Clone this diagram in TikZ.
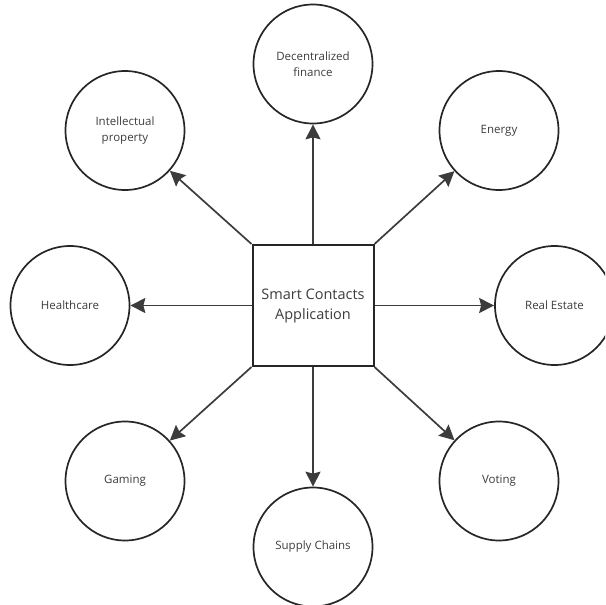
\documentclass[tikz,border=0pt]{standalone}
\usepackage{fontspec}
\setmainfont{Open Sans}
\usepackage{tikz}
\usetikzlibrary{arrows.meta}
\definecolor{ink}{HTML}{262626}
\definecolor{label}{HTML}{3C3C3C}

\begin{document}
\begin{tikzpicture}[x=1pt, y=-1pt,
	topic/.style = {draw=ink, circle, line width=1.7pt, minimum size=119pt, inner sep=0pt, align=center, text=label, font=\fontsize{11.5}{16}\selectfont},
	app/.style = {draw=ink, rectangle, line width=2pt, minimum size=121pt, inner sep=0pt, align=center, text=label, font=\fontsize{14.5}{20}\selectfont},
	link/.style = {draw=ink!90, line width=1.7pt, -{Stealth[length=15pt, width=15pt, inset=2pt]}}]
	\useasboundingbox (0,0) rectangle (605,605);
	\clip (0,0) rectangle (605,605);
	\node[app] (S) at (313, 305.5){Smart Contacts\\Application};
	\node[topic] (D) at (313, 64){Decentralized\\finance};
	\node[topic] (I) at (125, 130.5){Intellectual\\property};
	\node[topic] (E) at (499, 130.5){Energy};
	\node[topic] (H) at (70, 305.5){Healthcare};
	\node[topic] (R) at (554.5, 305.5){Real Estate};
	\node[topic] (G) at (125, 481){Gaming};
	\node[topic] (V) at (499, 481){Voting};
	\node[topic] (C) at (313, 547){Supply Chains};
	\draw[link] (S.north) -- (D);
	\draw[link] (S.north west) -- (I);
	\draw[link] (S.north east) -- (E);
	\draw[link] (S.west) -- (H);
	\draw[link] (S.east) -- (R);
	\draw[link] (S.south west) -- (G);
	\draw[link] (S.south east) -- (V);
	\draw[link] (S.south) -- (C);
\end{tikzpicture}
\end{document}
